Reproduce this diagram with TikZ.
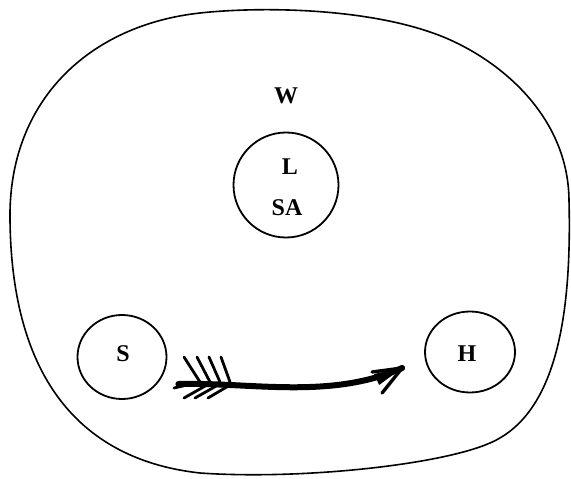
\documentclass[tikz,border=0pt]{standalone}
\usepackage{fontspec}
\setmainfont{Liberation Serif}
\usetikzlibrary{shapes.geometric,calc}
\begin{document}
\begin{tikzpicture}[x=1pt,y=-1pt,
  blob/.style={draw,line width=1.6pt},
  ring/.style={draw,ellipse,line width=1.8pt,inner sep=0pt},
  lbl/.style={font=\fontsize{24}{28}\selectfont\bfseries,inner sep=0pt},
  shaft/.style={line width=6pt,line cap=round},
  feather/.style={line width=2.8pt,line cap=round}]
\useasboundingbox (0,0) rectangle (571,479);
\draw[blob] (10,220) .. controls (8,100) and (90,25) .. (200,13)
  .. controls (260,6.5) and (360,8) .. (430,32)
  .. controls (490,52) and (568,110) .. (569,200)
  .. controls (572,320) and (555,415) .. (490,443)
  .. controls (440,465) and (300,480) .. (200,473)
  .. controls (100,462) and (12,400) .. cycle;
\node[ring,minimum width=105pt,minimum height=105pt] (la) at (286,185) {};
\node[ring,minimum width=89pt,minimum height=84pt] (s) at (122,357) {};
\node[ring,minimum width=90pt,minimum height=81pt] (h) at (470,352) {};
\node[lbl] (w) at (286,96) {W};
\node[lbl] (l) at (290,167) {L};
\node[lbl] (sa) at (287,208) {SA};
\node[lbl] (st) at (123,354) {S};
\node[lbl] (ht) at (467,354) {H};
\coordinate (tail) at ($(s.east)+(11,27)$);
\coordinate (tip) at ($(h.west)+(-22,16)$);
\draw[shaft] (tail) .. controls (250,382) and (330,400) .. (tip);
\draw[line width=3.4pt,line cap=round] (tip) -- ++(-30,4);
\draw[line width=3.4pt,line cap=round] (tip) -- ++(-20,25);
\fill (tip) -- ++(-28,6) -- ++(5,11) -- cycle;
\draw[feather] (174,388) -- (196,383);
\foreach \a/\b in {184/200,197/210,209/220,221/230}{
  \draw[feather] (\a,357) -- (\b,382);
}
\foreach \a/\b in {207/184,218/195,230/208}{
  \draw[feather] (\a,385) -- (\b,398);
}
\end{tikzpicture}
\end{document}
